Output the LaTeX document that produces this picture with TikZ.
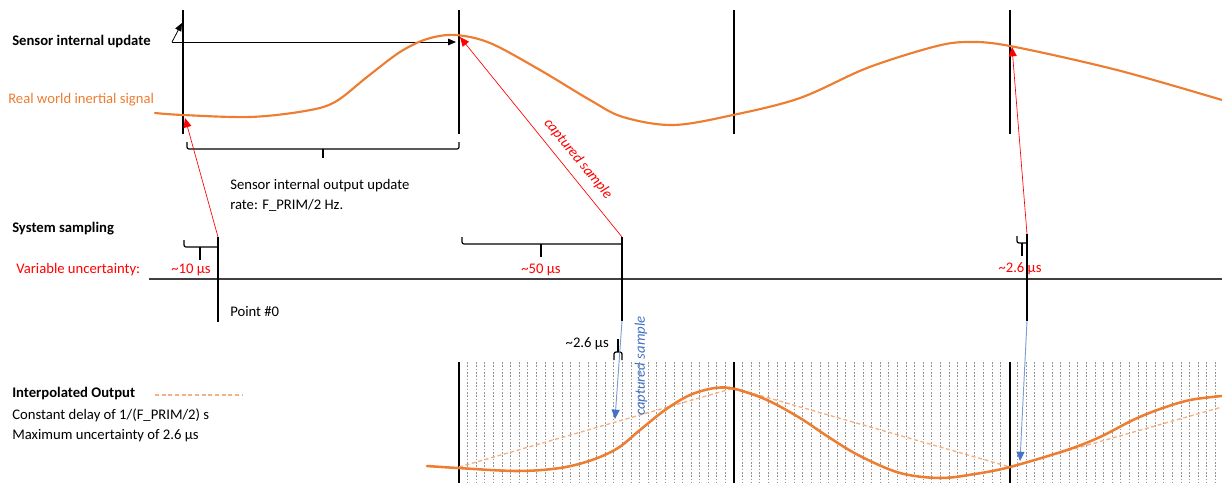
\documentclass[tikz,border=0pt]{standalone}
\usepackage{fontspec}
\setmainfont{Carlito}
\usetikzlibrary{arrows.meta}
\definecolor{sigorange}{HTML}{ED7D31}
\definecolor{lightorange}{HTML}{F4B183}
\definecolor{capred}{HTML}{FF0000}
\definecolor{capblue}{HTML}{4472C4}
\definecolor{axisgray}{HTML}{404040}
\tikzset{
  lbl/.style={inner sep=0pt, font=\fontsize{11}{13}\selectfont},
  boldlbl/.style={lbl, font=\fontsize{11}{13}\selectfont\bfseries},
  redlbl/.style={lbl, text=capred},
  tickline/.style={black, line width=1.1pt},
  brace/.style={black, line width=0.9pt, rounded corners=1.5pt},
  redarrow/.style={capred, line width=0.5pt, -{Triangle[length=7pt,width=6pt]}},
  bluearrow/.style={capblue!70, line width=0.7pt, -{Triangle[length=7pt,width=6pt,fill=capblue,color=capblue]}},
  blackarrow/.style={black, line width=0.6pt, -{Triangle[length=6pt,width=5pt]}},
  signal/.style={sigorange, line width=1.6pt, line cap=round},
  signalbold/.style={sigorange, line width=1.9pt, line cap=round},
  interp/.style={lightorange, line width=1pt, dash pattern=on 3pt off 2pt},
  gridline/.style={gray!85, line width=0.5pt, dash pattern=on 1.2pt off 1.3pt},
}
\begin{document}
\begin{tikzpicture}[x=0.75pt,y=-0.75pt]
\useasboundingbox (0,0) rectangle (1222,483);

% ---------- labels left ----------
\node[boldlbl, anchor=west] (siu) at (12,42) {Sensor internal update};
\node[lbl, anchor=west, text=sigorange] (rwis) at (8,100) {Real world inertial signal};
\node[boldlbl, anchor=west] (ssamp) at (12,229) {System sampling};
\node[redlbl, anchor=west] (varu) at (16,270) {Variable uncertainty:};
\node[boldlbl, anchor=west] (iout) at (12,394) {Interpolated Output};
\node[lbl, anchor=west] (cdel) at (12,415) {Constant delay of 1/(F\_PRIM/2) s};
\node[lbl, anchor=west] (maxu) at (12,436) {Maximum uncertainty of 2.6 µs};
\coordinate (legA) at (155,395);
\coordinate (legB) at (243,395);
\draw[interp] (legA) -- (legB);

% ---------- top: sensor internal update lines ----------
\foreach \n/\x in {u0/183,u1/459,u2/734,u3/1010}{
  \coordinate (\n t) at (\x,10);
  \coordinate (\n b) at (\x,134);
  \draw[tickline] (\n t) -- (\n b);
}
\coordinate (arrS) at (172,42);
\coordinate (arrE) at (456,42);
\coordinate (arrU) at (182,23);
\draw[blackarrow] (arrS) -- (arrE);
\draw[blackarrow] (arrS) -- (arrU);

% real world signal
\draw[signal] plot[smooth, tension=0.55] coordinates {
 (155,113) (183,115) (250,117) (305,111) (335,102) (367,77) (400,52)
 (427,39) (455,35) (490,43) (540,70) (590,100) (623,117) (673,125) (733,115)
 (800,98) (867,68) (933,47) (967,42) (1010,46) (1117,70) (1222,100)};

% brace under first interval
\draw[brace] (187,142) -- (187,149) -- (459,149) -- (459,142);
\draw[brace] (323,149) -- (323,158);
\node[lbl, anchor=north west, align=left] (rate) at (230,179)
  {Sensor internal output update\\[2pt]rate: F\_PRIM/2 Hz.};

% ---------- system sampling ----------
\draw[axisgray, line width=0.8pt] (149,279) coordinate (axL) -- (1222,279) coordinate (axR);

% sample 0
\coordinate (s0t) at (218,237);
\coordinate (s0b) at (218,322);
\draw[tickline] (s0t) -- (s0b);
\draw[brace] (184,240) -- (184,247) -- (218,247);
\draw[brace] (200,247) -- (200,260);
\node[redlbl] (u10) at (191,270) {\textasciitilde10 µs};
\node[lbl, anchor=west] (p0) at (230,312) {Point \#0};
\coordinate (c0) at (185,118);
\draw[redarrow] (s0t) -- (c0);

% sample 1
\coordinate (s1t) at (622,237);
\coordinate (s1b) at (622,321);
\draw[tickline] (s1t) -- (s1b);
\draw[brace] (462,237) -- (462,244) -- (622,244);
\draw[brace] (541,244) -- (541,257);
\node[redlbl] (u50) at (541,270) {\textasciitilde50 µs};
\coordinate (c1) at (460,37);
\draw[redarrow] (s1t) -- (c1);
\node[redlbl, font=\fontsize{11}{13}\selectfont\itshape, rotate=-50.7] (cap1) at (578,159) {captured sample};

% sample 2
\coordinate (s2t) at (1027,234);
\coordinate (s2b) at (1027,321);
\draw[tickline] (s2t) -- (s2b);
\draw[brace] (1017,236) -- (1017,243) -- (1027,243);
\draw[brace] (1022,243) -- (1022,256);
\node[redlbl] (u26) at (1020,269) {\textasciitilde2.6 µs};
\coordinate (c2) at (1012,47);
\draw[redarrow] (s2t) -- (c2);

% ---------- interpolated output ----------
\foreach \i in {1,...,88}{
  \draw[gridline] ({459+\i*8.594},362) -- ({459+\i*8.594},483);
}
\foreach \n/\x in {v1/459,v2/734,v3/1010}{
  \coordinate (\n t) at (\x,362);
  \coordinate (\n b) at (\x,483);
  \draw[tickline] (\n t) -- (\n b);
}

\coordinate (i0) at (459,467);
\coordinate (i1) at (734,388);
\coordinate (i2) at (1010,467);
\coordinate (i3) at (1222,407);
\draw[interp] (i0) -- (i1) -- (i2) -- (i3);

\draw[signalbold] plot[smooth, tension=0.55] coordinates {
 (427,466) (458,468) (517,471) (560,468) (592,460) (618,448) (640,430)
 (665,410) (690,395) (715,388) (735,389) (767,400) (800,418) (830,438)
 (860,456) (900,473) (940,478) (975,474) (1010,467) (1067,450) (1100,437)
 (1133,420) (1160,409) (1190,400) (1222,396)};

% small black brace ~2.6 µs
\draw[brace] (618,339) -- (618,352);
\draw[brace] (614,360) -- (614,352) -- (622,352) -- (622,360);
\node[lbl, anchor=east] (u26b) at (609,344) {\textasciitilde2.6 µs};

% blue arrows
\coordinate (b1) at (615,419);
\coordinate (b2) at (1020,461);
\draw[bluearrow] (s1b) -- (b1);
\draw[bluearrow] (s2b) -- (b2);
\node[lbl, text=capblue, font=\fontsize{11}{13}\selectfont\itshape, rotate=90] (cap2) at (641,366) {captured sample};
\end{tikzpicture}
\end{document}
